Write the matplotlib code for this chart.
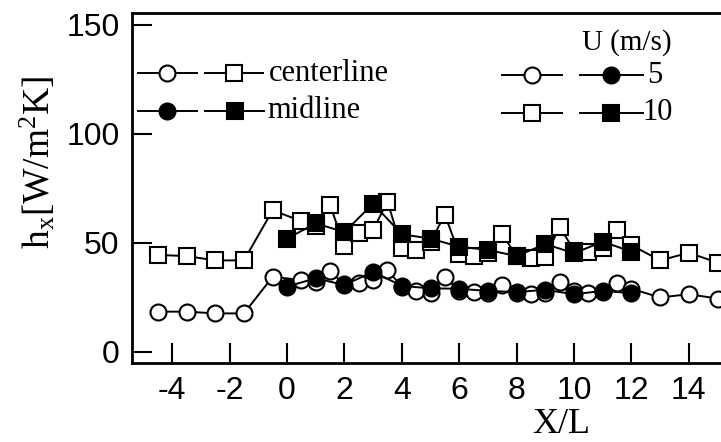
import numpy as np
import matplotlib
matplotlib.use("Agg")
import matplotlib.pyplot as plt

plt.rcParams['mathtext.fontset'] = 'custom'
plt.rcParams['mathtext.rm'] = 'Liberation Serif'
plt.rcParams['mathtext.it'] = 'Liberation Serif:italic'
plt.rcParams['axes.unicode_minus'] = False

# centerline (open markers): half-step positions
x_center = [-4.5, -3.5, -2.5, -1.5, -0.5, 0.5, 1.0, 1.5, 2.0, 2.5, 3.0, 3.5, 4.0, 4.5,
            5.0, 5.5, 6.0, 6.5, 7.0, 7.5, 8.0, 8.5, 9.0, 9.5, 10.0, 10.5, 11.0, 11.5,
            12.0, 13.0, 14.0, 15.0]
h_center_5 = [18.5, 18.5, 17.7, 17.7, 34.5, 33.0, 32.0, 37.0, 31.0, 31.5, 33.0, 37.5, 30.0, 28.0,
              27.0, 34.5, 28.0, 27.5, 27.0, 30.7, 27.0, 26.5, 27.0, 32.2, 28.0, 26.9, 27.5, 31.5,
              29.0, 25.0, 26.5, 24.5]
h_center_10 = [44.5, 44.0, 42.0, 42.0, 65.0, 60.0, 58.0, 67.5, 48.5, 54.5, 56.0, 69.0, 47.5, 47.0,
               50.5, 63.0, 45.0, 44.0, 45.5, 54.0, 44.0, 43.0, 43.5, 57.5, 46.5, 46.0, 47.5, 56.0,
               49.0, 42.0, 45.5, 41.0]

# midline (filled markers): integer positions
x_mid = [0, 1, 2, 3, 4, 5, 6, 7, 8, 9, 10, 11, 12]
h_mid_5 = [30.0, 33.8, 30.7, 36.8, 30.3, 29.2, 29.0, 28.0, 27.5, 28.5, 26.5, 28.0, 27.0]
h_mid_10 = [52.0, 59.0, 55.0, 68.0, 54.0, 52.0, 48.3, 46.8, 44.0, 49.5, 45.3, 50.6, 46.0]

ms = 11.5
mew = 1.5
lw = 1.4

fig = plt.figure(figsize=(7.21, 4.42), dpi=100)
ax = fig.add_axes([0.1831, 0.178, 0.8718, 0.7932])

ax.plot(x_center, h_center_10, '-s', color='black', lw=lw, ms=ms, mew=mew, mfc='white', mec='black')
ax.plot(x_mid, h_mid_10, '-s', color='black', lw=lw, ms=ms, mew=mew, mfc='black', mec='black')
ax.plot(x_center, h_center_5, '-o', color='black', lw=lw, ms=ms, mew=mew, mfc='white', mec='black')
ax.plot(x_mid, h_mid_5, '-o', color='black', lw=lw, ms=ms, mew=mew, mfc='black', mec='black')

ax.set_xlim(-5.4, 16.5)
ax.set_ylim(-5.2, 155.6)
ax.set_xticks(np.arange(-4, 15, 2))
ax.set_yticks([0, 50, 100, 150])
ax.tick_params(direction='in', length=14.5, width=1.5, labelsize=23, pad=9)
for lab in ax.get_xticklabels() + ax.get_yticklabels():
    lab.set_family('Liberation Sans')
for side in ['left', 'bottom', 'top']:
    ax.spines[side].set_linewidth(2)
ax.spines['right'].set_visible(False)

fig.text(0.053, 0.633, r'$\mathrm{h_x[W/m^2K]}$', rotation=90, ha='center', va='center',
         fontsize=27, family='Liberation Serif')
fig.text(0.778, 0.002, 'X/L', ha='center', va='bottom', fontsize=26, family='Liberation Serif')


# hand-made legend keys in axes fraction
def key(x0, x1, y, marker, face):
    ax.plot([x0, x1], [y, y], '-', color='black', lw=lw, transform=ax.transAxes, clip_on=False)
    ax.plot([(x0 + x1) / 2], [y], marker, ms=ms, mew=mew, mfc=face, mec='black',
            transform=ax.transAxes, clip_on=False)


key(0.0095, 0.1034, 0.828, 'o', 'white')
key(0.1161, 0.2084, 0.828, 's', 'white')
key(0.0095, 0.1034, 0.720, 'o', 'black')
key(0.1161, 0.2100, 0.720, 's', 'black')
ax.text(0.218, 0.828, 'centerline', transform=ax.transAxes, fontsize=22,
        family='Liberation Serif', ha='left', va='center')
ax.text(0.216, 0.720, 'midline', transform=ax.transAxes, fontsize=22,
        family='Liberation Serif', ha='left', va='center')

ax.text(0.7157, 0.916, 'U (m/s)', transform=ax.transAxes, fontsize=21,
        family='Liberation Serif', ha='left', va='center')
key(0.5886, 0.6841, 0.822, 'o', 'white')
key(0.7127, 0.8129, 0.822, 'o', 'black')
key(0.5886, 0.6841, 0.714, 's', 'white')
key(0.7127, 0.8129, 0.714, 's', 'black')
ax.text(0.819, 0.822, '5', transform=ax.transAxes, fontsize=22,
        family='Liberation Serif', ha='left', va='center')
ax.text(0.8113, 0.714, '10', transform=ax.transAxes, fontsize=22,
        family='Liberation Serif', ha='left', va='center')

fig.savefig('out.png', dpi=100)
